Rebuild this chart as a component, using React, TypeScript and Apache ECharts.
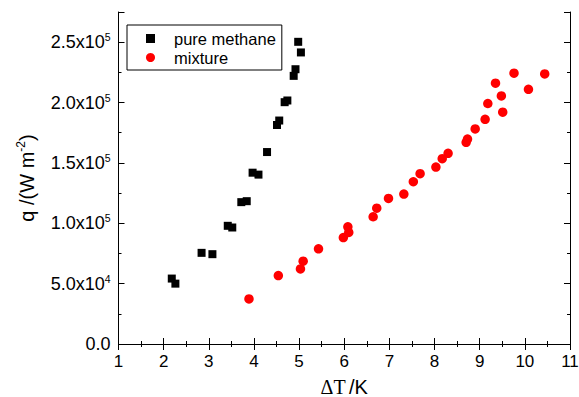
import React, { useEffect, useRef } from "react";
import * as echarts from "echarts";

const methaneX = [2.18, 2.26, 2.84, 3.08, 3.42, 3.52, 3.72, 3.84, 3.97, 4.1, 4.29, 4.51, 4.56, 4.68, 4.74, 4.88, 4.92, 4.98, 5.04];
const methaneY = [54200, 50000, 75500, 74400, 97900, 96500, 117500, 118300, 141900, 140300, 159000, 181400, 185100, 200300, 201700, 222100, 227600, 250300, 241500];

const mixtureX = [3.89, 4.54, 5.03, 5.09, 5.43, 5.98, 6.1, 6.08, 6.64, 6.72, 6.98, 7.32, 7.53, 7.68, 8.03, 8.17, 8.3, 8.7, 8.73, 8.9, 9.12, 9.18, 9.51, 9.48, 9.35, 9.76, 10.08, 10.44];
const mixtureY = [37300, 56700, 62200, 68600, 78800, 88200, 92400, 97100, 105400, 112500, 120600, 124200, 134400, 141100, 146600, 153500, 157900, 167100, 169800, 178100, 186100, 199200, 192000, 205500, 216000, 224300, 211000, 223700];

const xTicks = [1, 2, 3, 4, 5, 6, 7, 8, 9, 10, 11];
const yTickLabels: Record<number, string> = {
  0: "0.0",
  50000: "5.0x10{s|4}",
  100000: "1.0x10{s|5}",
  150000: "1.5x10{s|5}",
  200000: "2.0x10{s|5}",
  250000: "2.5x10{s|5}",
};

const FONT = "'Liberation Sans', Arial, sans-serif";

export default function App() {
  const ref = useRef<HTMLDivElement>(null);
  useEffect(() => {
    if (!ref.current) return;
    const chart = echarts.init(ref.current, null, { renderer: "svg" });
    const axisLine = { show: true, lineStyle: { color: "#000", width: 1 } };
    const tick = { show: true, inside: true, length: 6, lineStyle: { color: "#000" } };
    const minor = { show: true, splitNumber: 2, length: 3, lineStyle: { color: "#000" } };
    chart.setOption({
      animation: false,
      backgroundColor: "#fff",
      grid: { left: 118.5, right: 9, top: 12, bottom: 53, containLabel: false, outerBoundsMode: "none" },
      legend: {
        left: 127,
        top: 25,
        orient: "vertical",
        padding: [5, 6, 4, 19],
        itemGap: 2,
        itemWidth: 9,
        itemHeight: 9,
        borderColor: "#000",
        borderWidth: 1,
        borderRadius: 0,
        textStyle: { fontFamily: FONT, fontSize: 16.5, color: "#000", padding: [0, 0, 0, 14] },
        data: [
          { name: "pure methane", icon: "rect" },
          { name: "mixture", icon: "circle" },
        ],
      },
      xAxis: [
        {
          type: "value",
          min: xTicks[0],
          max: xTicks[xTicks.length - 1],
          interval: 1,
          axisLine,
          axisTick: tick,
          minorTick: minor,
          splitLine: { show: false },
          axisLabel: { fontFamily: FONT, fontSize: 17, color: "#000", margin: 9 },
          name: "{d|ΔT} {k|/K}",
          nameLocation: "middle",
          nameGap: 33,
          nameTextStyle: {
            rich: {
              d: { fontFamily: "'Liberation Serif', 'Times New Roman', serif", fontSize: 20, color: "#000", lineHeight: 20 },
              k: { fontFamily: FONT, fontSize: 20, color: "#000", lineHeight: 20 },
            },
          },
        },
        {
          type: "value",
          position: "top",
          min: xTicks[0],
          max: xTicks[xTicks.length - 1],
          interval: 1,
          axisLine,
          axisTick: tick,
          minorTick: minor,
          splitLine: { show: false },
          axisLabel: { show: false },
        },
      ],
      yAxis: [
        {
          type: "value",
          min: 0,
          max: 275000,
          interval: 50000,
          axisLine,
          axisTick: tick,
          minorTick: minor,
          splitLine: { show: false },
          axisLabel: {
            margin: 8,
            color: "#000",
            fontFamily: FONT,
            fontSize: 18,
            formatter: (v: number) => yTickLabels[v] ?? "",
            rich: {
              s: { fontFamily: FONT, fontSize: 10.5, color: "#000", verticalAlign: "top", padding: [0, 0, 10, 0] },
            },
          },
          name: "q /(W m{s|-2})",
          nameLocation: "middle",
          nameRotate: 90,
          nameGap: 80,
          nameTextStyle: {
            fontFamily: FONT,
            fontSize: 20,
            color: "#000",
            rich: {
              s: { fontFamily: FONT, fontSize: 12, color: "#000", padding: [0, 0, 12, 0] },
            },
          },
        },
        {
          type: "value",
          position: "right",
          min: 0,
          max: 275000,
          interval: 50000,
          axisLine,
          axisTick: tick,
          minorTick: minor,
          splitLine: { show: false },
          axisLabel: { show: false },
        },
      ],
      series: [
        {
          name: "pure methane",
          type: "scatter",
          symbol: "rect",
          symbolSize: 8,
          itemStyle: { color: "#000", opacity: 1 },
          data: methaneX.map((x, i) => [x, methaneY[i]]),
        },
        {
          name: "mixture",
          type: "scatter",
          symbol: "circle",
          symbolSize: 9.5,
          itemStyle: { color: "#ff0000", opacity: 1 },
          data: mixtureX.map((x, i) => [x, mixtureY[i]]),
        },
      ],
    });
    return () => chart.dispose();
  }, []);
  return <div ref={ref} style={{ width: 579, height: 397, position: "absolute", left: 0, top: 0 }} />;
}
